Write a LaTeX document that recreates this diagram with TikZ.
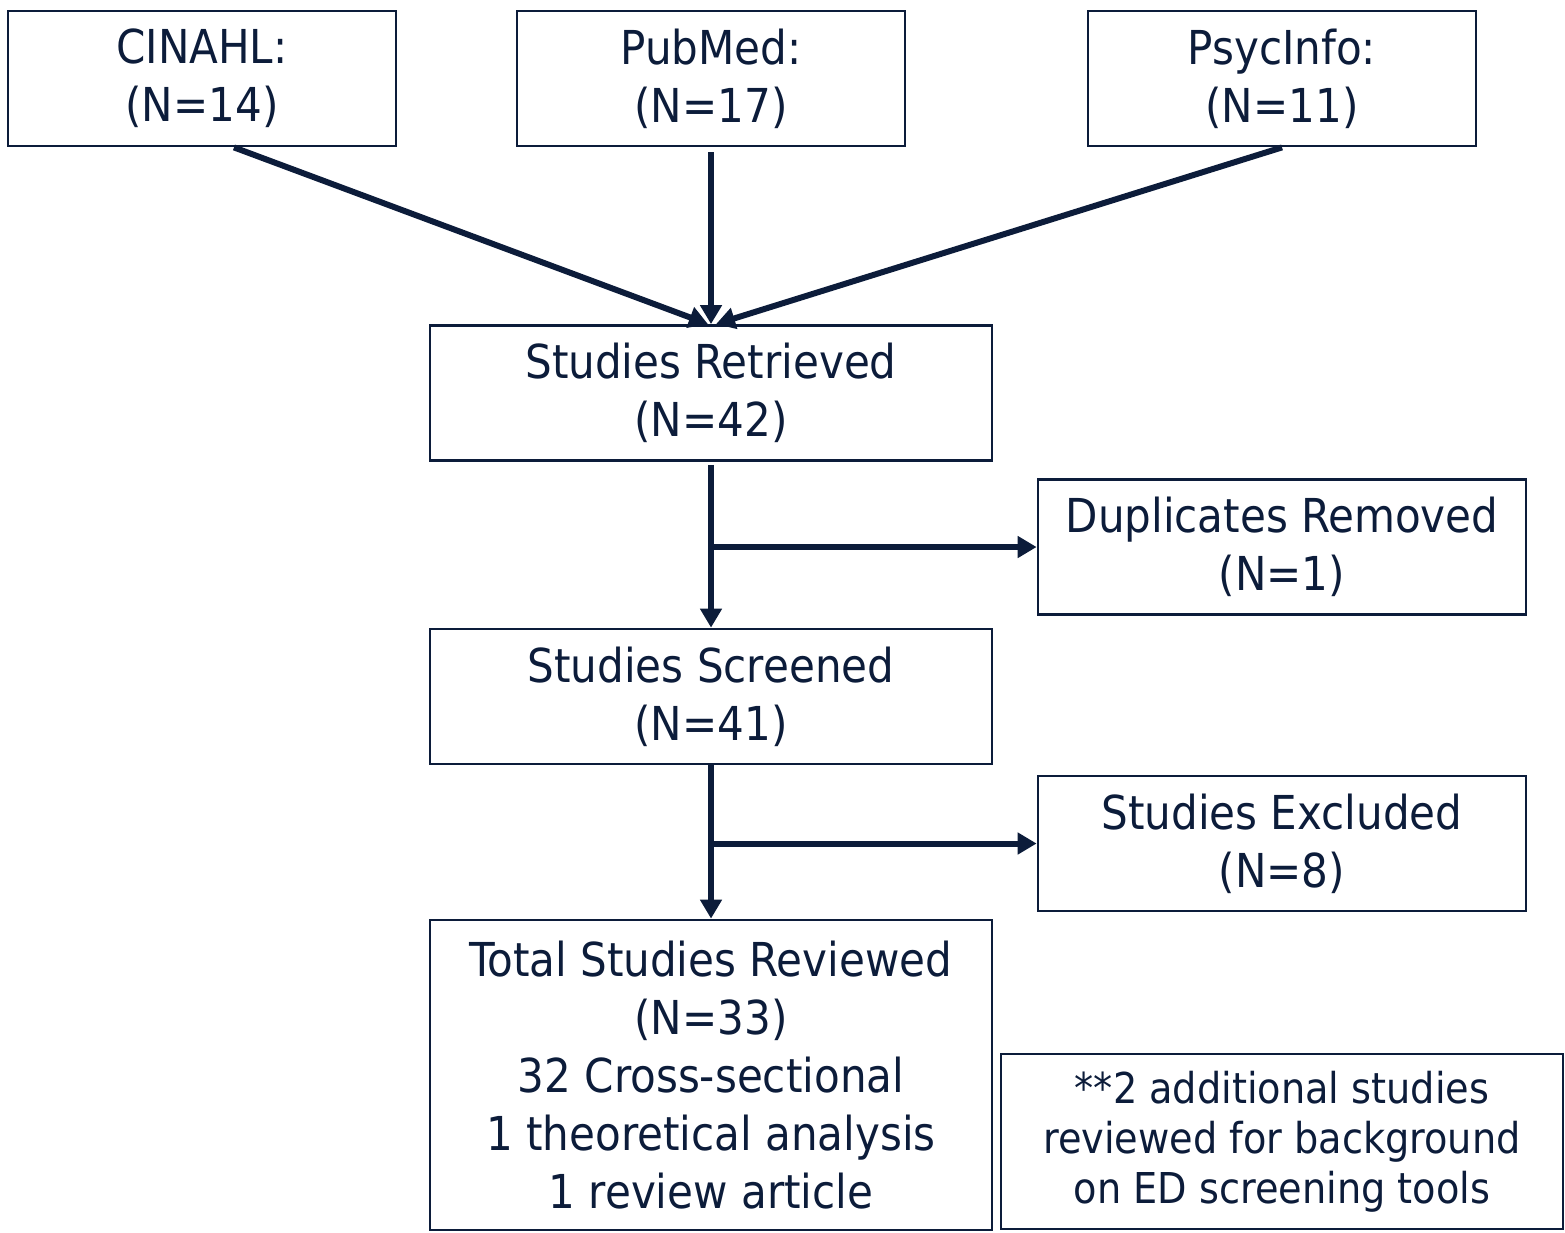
\documentclass[tikz,border=0pt]{standalone}
\usepackage{fontspec}
\setmainfont{DejaVu Sans Condensed}
\usepackage{tikz}
\usetikzlibrary{positioning,arrows.meta}
\usepackage{xcolor}
\definecolor{navy}{RGB}{12,28,58}

\tikzset{
  box/.style={draw=navy,line width=0.8pt,text=navy,align=center,inner sep=2pt,
    minimum width=3.88cm,minimum height=1.35cm,font=\fontsize{13.3}{16.5}\selectfont},
  wide/.style={box,minimum width=5.62cm},
  flow/.style={draw=navy,line width=1.7pt,->}
}

\begin{document}
\begin{tikzpicture}[>={Triangle[length=1.9mm,width=2.1mm]}]
\useasboundingbox (0,0) rectangle (15.65,-12.32);
\node[box] (cin) at (2.02,-0.785) {CINAHL:\\(N=14)};
\node[box] (pub) at (7.11,-0.785) {PubMed:\\(N=17)};
\node[box] (psy) at (12.82,-0.785) {PsycInfo:\\(N=11)};
\node[wide] (ret) at (7.11,-3.93) {Studies Retrieved\\(N=42)};
\node[box,minimum width=4.88cm] (dup) at (12.82,-5.47) {Duplicates Removed\\(N=1)};
\node[wide] (scr) at (7.11,-6.965) {Studies Screened\\(N=41)};
\node[box,minimum width=4.88cm] (exc) at (12.82,-8.435) {Studies Excluded\\(N=8)};
\node[wide,minimum height=3.1cm] (tot) at (7.11,-10.75) {Total Studies Reviewed\\(N=33)\\32 Cross-sectional\\1 theoretical analysis\\1 review article};
\node[wide,minimum height=1.75cm,font=\fontsize{12.1}{14.2}\selectfont] (note) at (12.82,-11.415) {**2 additional studies\\reviewed for background\\on ED screening tools};
% sources into retrieved
\draw[flow] ([xshift=0.32cm]cin.south) -- ([xshift=-0.03cm]ret.north);
\draw[flow] ([yshift=-0.05cm]pub.south) -- (ret.north);
\draw[flow] (psy.south) -- ([xshift=0.05cm]ret.north);
% main column and side branches
\draw[flow] ([yshift=-0.03cm]ret.south) -- (scr.north);
\draw[flow] (ret.south |- dup.west) -- (dup.west);
\draw[flow] (scr.south) -- (tot.north);
\draw[flow] (scr.south |- exc.west) -- (exc.west);
\end{tikzpicture}
\end{document}
